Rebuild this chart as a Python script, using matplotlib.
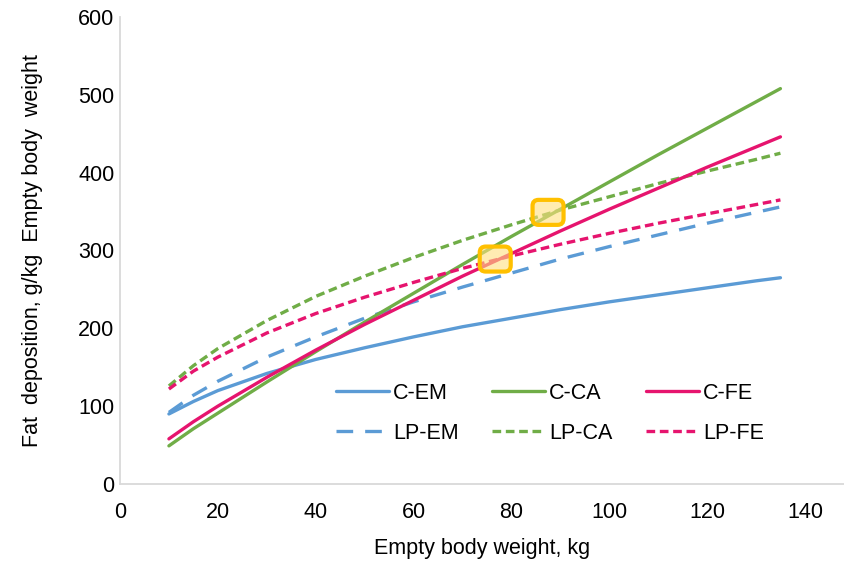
import matplotlib
matplotlib.use("Agg")
import matplotlib.pyplot as plt
from matplotlib.patches import FancyBboxPatch
from matplotlib.transforms import ScaledTranslation

plt.rcParams['font.family'] = ['Liberation Sans', 'DejaVu Sans']

# Empty body weight, kg
ebw = [10, 15, 20, 30, 40, 50, 60, 70, 80, 90, 100, 110, 120, 130, 135]

# Fat deposition, g/kg empty body weight
c_em = [90, 106, 120, 142, 160, 175, 189, 202, 213, 224, 234, 243, 252, 261, 265]
c_ca = [49, 71, 91, 131, 170, 208, 245, 282, 318, 353, 388, 423, 457, 491, 508]
c_fe = [58, 80, 100, 137, 172, 205, 236, 267, 296, 325, 353, 380, 407, 433, 446]
lp_em = [92, 114, 132, 163, 189, 213, 234, 253, 271, 289, 305, 320, 335, 349, 356]
lp_ca = [126, 152, 174, 210, 241, 267, 291, 313, 333, 352, 369, 386, 402, 417, 425]
lp_fe = [122, 145, 163, 194, 219, 240, 259, 277, 293, 308, 322, 335, 347, 359, 365]

# Highlighted crossing points (kg, g/kg)
mark_x = [76.7, 87.5]
mark_y = [289, 349]

x_ticks = [0, 20, 40, 60, 80, 100, 120, 140]
y_ticks = [0, 100, 200, 300, 400, 500, 600]

BLUE = '#5B9BD5'
GREEN = '#70AD47'
PINK = '#E6146E'
FS = 15.5

fig = plt.figure(figsize=(8.45, 5.61), dpi=100)
ax = fig.add_axes([120 / 845, 1 - 484 / 561, 1 - 120 / 845, (484 - 17) / 561])

lw = 2.4
long_dash = (5.0, 3.6)
short_dash = (2.6, 1.4)

series = [
    ('C-EM', c_em, BLUE, '-'),
    ('LP-EM', lp_em, BLUE, (0, long_dash)),
    ('C-CA', c_ca, GREEN, '-'),
    ('LP-CA', lp_ca, GREEN, (0, short_dash)),
    ('C-FE', c_fe, PINK, '-'),
    ('LP-FE', lp_fe, PINK, (0, short_dash)),
]

handles = []
for name, vals, col, ls in series:
    ln, = ax.plot(ebw, vals, color=col, lw=lw, linestyle=ls,
                  solid_capstyle='round', dash_capstyle='butt', label=name)
    handles.append(ln)

# Rounded highlight boxes around the crossing points
for mx, my in zip(mark_x, mark_y):
    w, h = 0.31, 0.25
    tr = fig.dpi_scale_trans + ScaledTranslation(mx, my, ax.transData)
    box = FancyBboxPatch((-w / 2, -h / 2), w, h,
                         boxstyle="round,pad=0,rounding_size=0.06",
                         facecolor=(1.0, 0.88, 0.50, 0.6), edgecolor='#FFC000',
                         linewidth=3.0, transform=tr, zorder=5)
    ax.add_patch(box)

ax.set_xlim(0, 148.2)
ax.set_ylim(0, 600)
ax.set_xticks(x_ticks)
ax.set_yticks(y_ticks)
ax.tick_params(axis='both', length=0, labelsize=FS, colors='#000000')
ax.tick_params(axis='x', pad=13)
ax.tick_params(axis='y', pad=4)

for side in ('top', 'right'):
    ax.spines[side].set_visible(False)
for side in ('left', 'bottom'):
    ax.spines[side].set_color('#D9D9D9')
    ax.spines[side].set_linewidth(1.3)

ax.set_xlabel('Empty body weight, kg', fontsize=FS, labelpad=11)
ax.set_ylabel('Fat  deposition, g/kg  Empty body  weight', fontsize=FS, labelpad=25)

leg = ax.legend(handles=handles, ncol=3, loc='upper left',
                bbox_to_anchor=(336 / 845, 1 - 383 / 561),
                bbox_transform=fig.transFigure, frameon=False,
                borderpad=0, borderaxespad=0,
                fontsize=FS, handlelength=2.45, handletextpad=0.2,
                columnspacing=1.55, labelspacing=0.86)

fig.savefig('out.png', dpi=100)
